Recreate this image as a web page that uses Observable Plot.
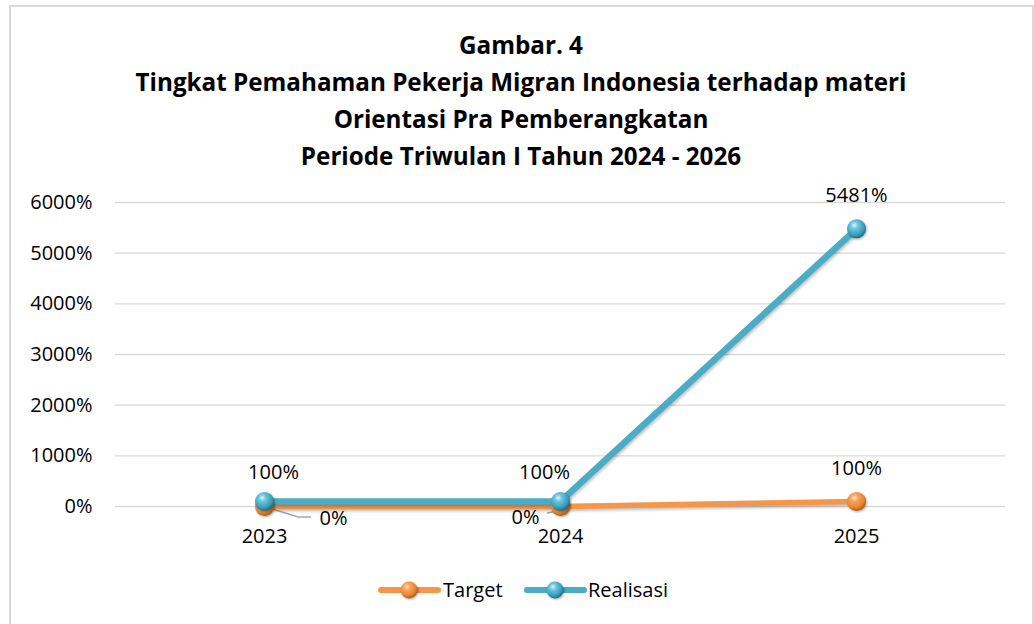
<!DOCTYPE html>
<html>
<head>
<meta charset="utf-8">
<script src="https://cdn.jsdelivr.net/npm/d3@7"></script>
<script src="https://cdn.jsdelivr.net/npm/@observablehq/plot@0.6"></script>
<style>
  html, body { margin:0; padding:0; background:#fff; width:1034px; height:624px; overflow:hidden; font-family:"Open Sans", sans-serif; color:#000; }
  #frame { position:absolute; left:9px; top:5px; width:1025px; height:700px; border:2px solid #d9d9d9; box-sizing:border-box; }
  #title { position:absolute; left:0; top:26px; width:1042px; text-align:center; font-weight:700; line-height:37px; white-space:nowrap; }
  #chart { position:absolute; left:0; top:180px; }
  .leg { position:absolute; top:578px; height:24px; }
  .legtext { position:absolute; top:576px; font-size:20px; line-height:28px; }
  #defs { position:absolute; left:0; top:0; width:0; height:0; }
</style>
</head>
<body>
<svg id="defs" width="0" height="0">
  <defs>
    <radialGradient id="gTeal" cx="40%" cy="35%" r="65%" fx="38%" fy="30%">
      <stop offset="0%" stop-color="#dff4fa"/>
      <stop offset="30%" stop-color="#6cc6de"/>
      <stop offset="75%" stop-color="#3a9dba"/>
      <stop offset="100%" stop-color="#1f6f88"/>
    </radialGradient>
    <radialGradient id="gOrange" cx="40%" cy="35%" r="65%" fx="38%" fy="30%">
      <stop offset="0%" stop-color="#ffe6c8"/>
      <stop offset="30%" stop-color="#f9a35a"/>
      <stop offset="75%" stop-color="#e9852f"/>
      <stop offset="100%" stop-color="#b25c15"/>
    </radialGradient>
  </defs>
</svg>
<div id="frame"></div>
<div id="title"></div>
<div id="chart"></div>
<div id="legend"></div>
<script>
// ---- data ----
const titleLines = [
  "Gambar. 4",
  "Tingkat Pemahaman Pekerja Migran Indonesia terhadap materi",
  "Orientasi Pra Pemberangkatan",
  "Periode Triwulan I Tahun 2024 - 2026"
];
const years = ["2023", "2024", "2025"];
const seriesNames = ["Target", "Realisasi"];
const target = [0, 0, 100];
const realisasi = [100, 100, 5481];
const yTicks = [0, 1000, 2000, 3000, 4000, 5000, 6000];

const colors = { Target: "#f79646", Realisasi: "#4bacc6" };
const grads = { Target: "url(#gOrange)", Realisasi: "url(#gTeal)" };

const tRows = years.map((yr, i) => ({ year: yr, series: "Target", value: target[i] }));
const rRows = years.map((yr, i) => ({ year: yr, series: "Realisasi", value: realisasi[i] }));

// ---- title ----
const titleEl = document.getElementById("title");
const ctx = document.createElement("canvas").getContext("2d");
ctx.font = '700 100px "Open Sans"';
const w100 = ctx.measureText(titleLines[1]).width;
const tSize = Math.min(26, 100 * 771 / w100);
titleEl.style.fontSize = tSize + "px";
titleEl.innerHTML = titleLines.map(s => `<div>${s}</div>`).join("");

// ---- chart ----
const fmt = d => d + "%";
const lbl = (rows, yr, dx, dy) => Plot.text(rows.filter(d => d.year === yr), {
  x: "year", y: "value", text: d => fmt(d.value), dx, dy, fontSize: 20, fill: "#000"
});

const plot = Plot.plot({
  width: 1034,
  height: 380,
  marginLeft: 115,
  marginRight: 29,
  marginTop: 22,
  marginBottom: 54,
  style: { fontFamily: '"Open Sans", sans-serif', fontSize: "20px", background: "transparent", overflow: "visible", color: "#000" },
  x: { type: "point", domain: years, padding: 0.5, label: null },
  y: { domain: [0, 6000], ticks: yTicks, label: null },
  marks: [
    Plot.gridY(yTicks, { stroke: "#d9d9d9", strokeOpacity: 1, strokeWidth: 1.4 }),
    Plot.axisY(yTicks, { tickSize: 0, tickPadding: 23, tickFormat: fmt, fontSize: 20, label: null }),
    Plot.axisX({ tickSize: 0, tickPadding: 22, fontSize: 20, label: null }),
    Plot.line(tRows, { x: "year", y: "value", stroke: colors.Target, strokeWidth: 5.5 }),
    Plot.line(rRows, { x: "year", y: "value", stroke: colors.Realisasi, strokeWidth: 6.5 }),
    Plot.dot(tRows, { x: "year", y: "value", r: 9.5, fill: grads.Target, stroke: "none" }),
    Plot.dot(rRows, { x: "year", y: "value", r: 9.5, fill: grads.Realisasi, stroke: "none" }),
    lbl(rRows, "2023", 9, -29),
    lbl(rRows, "2024", -16, -29),
    lbl(rRows, "2025", 0, -33),
    lbl(tRows, "2023", 69, 12),
    lbl(tRows, "2024", -35, 11),
    lbl(tRows, "2025", 0, -33)
  ]
});
document.getElementById("chart").appendChild(plot);

// shadows on lines and dots
const svg = d3.select(plot);
svg.selectAll('g[aria-label="line"]').style("filter", "drop-shadow(1px 2px 1.5px rgba(0,0,0,0.25))");
svg.selectAll('g[aria-label="dot"]').style("filter", "drop-shadow(1px 1.5px 1px rgba(0,0,0,0.35))");

// leader lines for the target 0% labels
const xs = plot.scale("x"), ys = plot.scale("y");
const x0 = xs.apply("2023"), y0 = ys.apply(target[0]);
const x1 = xs.apply("2024"), y1 = ys.apply(target[1]);
const leaders = svg.insert("g", 'g[aria-label="line"]').attr("fill", "none").attr("stroke", "#a6a6a6").attr("stroke-width", 1.5);
leaders.append("polyline").attr("points", `${x0 + 2},${y0 + 1} ${x0 + 34},${y0 + 11} ${x0 + 47},${y0 + 11}`);
leaders.append("polyline").attr("points", `${x1 - 13},${y1 + 7} ${x1 - 2},${y1 + 5}`);

// ---- legend ----
const legend = document.getElementById("legend");
const legPos = { Target: { sw: 379, tx: 443 }, Realisasi: { sw: 525, tx: 588 } };
seriesNames.forEach(name => {
  const p = legPos[name];
  const s = d3.create("svg").attr("class", "leg").attr("width", 62).attr("height", 24)
    .style("left", p.sw + "px").style("overflow", "visible");
  s.append("line").attr("x1", 2).attr("x2", 59).attr("y1", 12).attr("y2", 12)
    .attr("stroke", colors[name]).attr("stroke-width", 6).attr("stroke-linecap", "round");
  s.append("circle").attr("cx", 30).attr("cy", 12).attr("r", 8.5).attr("fill", grads[name])
    .style("filter", "drop-shadow(1px 1px 1px rgba(0,0,0,0.35))");
  legend.appendChild(s.node());
  const t = document.createElement("div");
  t.className = "legtext";
  t.style.left = p.tx + "px";
  t.textContent = name;
  legend.appendChild(t);
});
</script>
</body>
</html>
